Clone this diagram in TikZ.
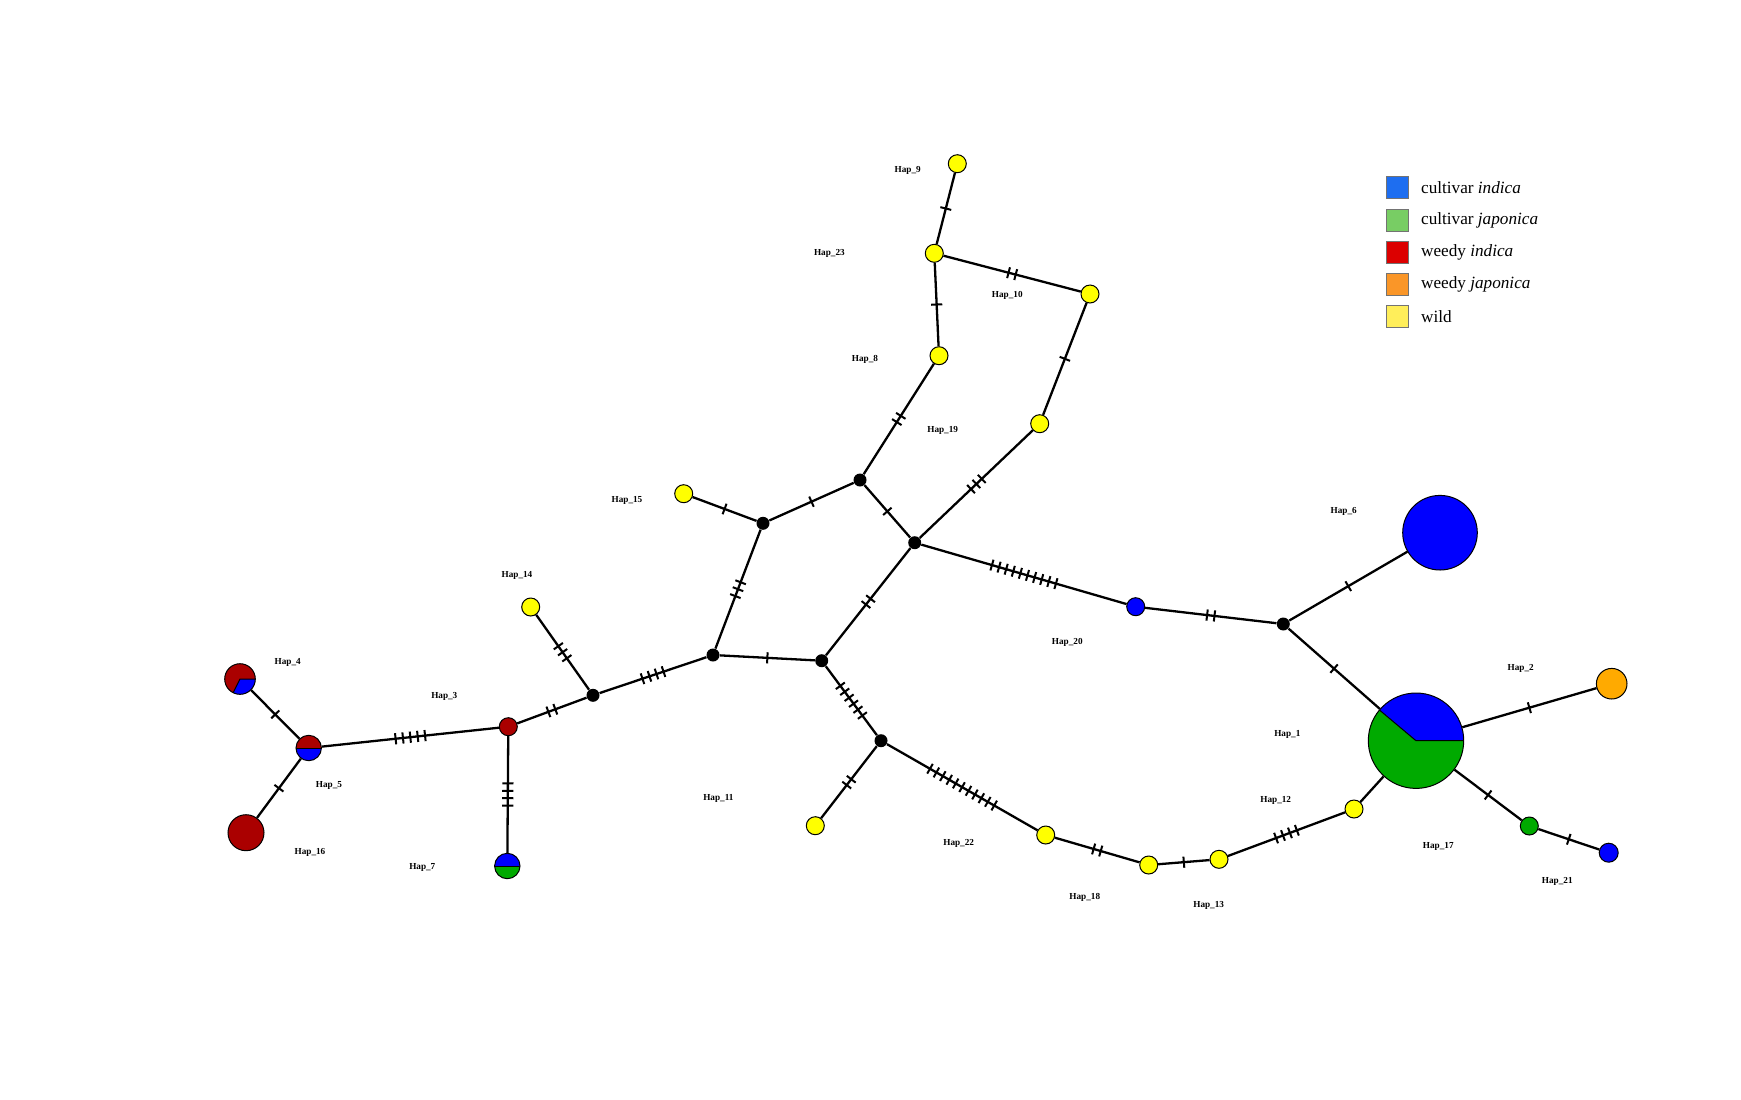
\documentclass[tikz,border=0pt]{standalone}
\usepackage{fontspec}
\setmainfont{Liberation Serif}
\usetikzlibrary{decorations.markings}
\definecolor{pred}{RGB}{170,0,0}
\definecolor{pblue}{RGB}{0,0,255}
\definecolor{pgreen}{RGB}{0,170,0}
\definecolor{pyellow}{RGB}{255,255,0}
\definecolor{porange}{RGB}{255,170,0}
\definecolor{lblue}{RGB}{30,110,240}
\definecolor{lgreen}{RGB}{120,205,100}
\definecolor{lred}{RGB}{220,0,0}
\definecolor{lorange}{RGB}{250,150,40}
\definecolor{lyellow}{RGB}{255,238,90}
\begin{document}
\begin{tikzpicture}[x=0.5pt,y=-0.5pt,
  hapc/.style={circle,draw=black,line width=0.5pt,inner sep=0pt},
  mvx/.style={circle,fill=black,inner sep=0pt,minimum size=6.5pt},
  edge/.style={line width=1.15pt,black},
  lab/.style={font=\fontsize{4.6}{5}\selectfont\bfseries,inner sep=0pt},
  legbox/.style={draw=black!55,line width=0.5pt,minimum size=11pt,inner sep=0pt},
  legtext/.style={font=\fontsize{8.6}{10}\selectfont,anchor=west,inner sep=0pt},
  mut/.style={postaction={decorate,decoration={markings,
    mark=at position 0.5 with {\foreach \k in {1,...,#1}{\draw[line width=1pt] ({(\k-(#1+1)/2)*3.7pt},-2.8pt) -- ({(\k-(#1+1)/2)*3.7pt},2.8pt);}}}}}
]
\useasboundingbox (0,0) rectangle (1741,1099);

% pies
\fill[pred] (240,679) circle[radius=7.65pt];
\fill[pblue] (240,679) -- +(-116.6:7.65pt) arc[start angle=-116.6,end angle=0,radius=7.65pt] -- cycle;
\draw[line width=0.5pt] (240,679) +(-116.6:7.65pt) -- (240,679) -- +(0:7.65pt);

\fill[pred] (308.7,748) -- +(0:6.35pt) arc[start angle=0,end angle=180,radius=6.35pt] -- cycle;
\fill[pblue] (308.7,748) -- +(180:6.35pt) arc[start angle=180,end angle=360,radius=6.35pt] -- cycle;
\draw[line width=0.5pt] (308.7,748) +(180:6.35pt) -- +(0:6.35pt);

\fill[pblue] (507.3,866) -- +(0:6.35pt) arc[start angle=0,end angle=180,radius=6.35pt] -- cycle;
\fill[pgreen] (507.3,866) -- +(180:6.35pt) arc[start angle=180,end angle=360,radius=6.35pt] -- cycle;
\draw[line width=0.5pt] (507.3,866) +(180:6.35pt) -- +(0:6.35pt);

\fill[pblue] (1416,740.7) -- +(0:23.85pt) arc[start angle=0,end angle=140,radius=23.85pt] -- cycle;
\fill[pgreen] (1416,740.7) -- +(140:23.85pt) arc[start angle=140,end angle=360,radius=23.85pt] -- cycle;
\draw[line width=0.5pt] (1416,740.7) +(140:23.85pt) -- (1416,740.7) -- +(0:23.85pt);

% haplotype nodes
\node[hapc,minimum size=47.7pt] (h1) at (1416,740.7) {};
\node[hapc,fill=porange,minimum size=15.3pt] (h2) at (1611.7,683.7) {};
\node[hapc,fill=pred,minimum size=9pt] (h3) at (508.3,726.7) {};
\node[hapc,minimum size=15.3pt] (h4) at (240,679) {};
\node[hapc,minimum size=12.7pt] (h5) at (308.7,748) {};
\node[hapc,fill=pblue,minimum size=37.3pt] (h6) at (1440,532.7) {};
\node[hapc,minimum size=12.7pt] (h7) at (507.3,866) {};
\node[hapc,fill=pyellow,minimum size=9pt] (h8) at (939,355.7) {};
\node[hapc,fill=pyellow,minimum size=9pt] (h9) at (957.3,163.7) {};
\node[hapc,fill=pyellow,minimum size=9pt] (h10) at (1090,294) {};
\node[hapc,fill=pyellow,minimum size=9pt] (h11) at (815.3,825.7) {};
\node[hapc,fill=pyellow,minimum size=9pt] (h12) at (1354,809) {};
\node[hapc,fill=pyellow,minimum size=9pt] (h13) at (1219,859.3) {};
\node[hapc,fill=pyellow,minimum size=9pt] (h14) at (530.7,607) {};
\node[hapc,fill=pyellow,minimum size=9pt] (h15) at (683.7,493.7) {};
\node[hapc,fill=pred,minimum size=18pt] (h16) at (246,832.7) {};
\node[hapc,fill=pgreen,minimum size=9pt] (h17) at (1529.3,826) {};
\node[hapc,fill=pyellow,minimum size=9pt] (h18) at (1148.7,865) {};
\node[hapc,fill=pyellow,minimum size=9pt] (h19) at (1039.7,423.7) {};
\node[hapc,fill=pblue,minimum size=9pt] (h20) at (1135.7,606.7) {};
\node[hapc,fill=pblue,minimum size=9.5pt] (h21) at (1608.7,852.7) {};
\node[hapc,fill=pyellow,minimum size=9pt] (h22) at (1045.7,835) {};
\node[hapc,fill=pyellow,minimum size=9pt] (h23) at (934.3,253.3) {};

% median vectors
\node[mvx] (mA) at (914.7,542.7) {};
\node[mvx] (mB) at (821.7,660.7) {};
\node[mvx] (mC) at (881,740.7) {};
\node[mvx] (mD) at (763,523.3) {};
\node[mvx] (mE) at (860,480) {};
\node[mvx] (mF) at (593,695.3) {};
\node[mvx] (mG) at (713,655) {};
\node[mvx] (mH) at (1283.3,624) {};

% edges
\draw[edge,mut=1] (h4) -- (h5);
\draw[edge,mut=1] (h5) -- (h16);
\draw[edge,mut=5] (h5) -- (h3);
\draw[edge,mut=4] (h3) -- (h7);
\draw[edge,mut=2] (h3) -- (mF);
\draw[edge,mut=3] (mF) -- (h14);
\draw[edge,mut=4] (mF) -- (mG);
\draw[edge,mut=3] (mG) -- (mD);
\draw[edge,mut=1] (mG) -- (mB);
\draw[edge,mut=1] (mD) -- (h15);
\draw[edge,mut=1] (mD) -- (mE);
\draw[edge,mut=2] (mE) -- (h8);
\draw[edge,mut=1] (mE) -- (mA);
\draw[edge,mut=1] (h8) -- (h23);
\draw[edge,mut=1] (h23) -- (h9);
\draw[edge,mut=2] (h23) -- (h10);
\draw[edge,mut=1] (h10) -- (h19);
\draw[edge,mut=3] (h19) -- (mA);
\draw[edge,mut=2] (mA) -- (mB);
\draw[edge,mut=10] (mA) -- (h20);
\draw[edge,mut=2] (h20) -- (mH);
\draw[edge,mut=1] (mH) -- (h6);
\draw[edge,mut=1] (mH) -- (h1);
\draw[edge,mut=6] (mB) -- (mC);
\draw[edge,mut=2] (mC) -- (h11);
\draw[edge,mut=11] (mC) -- (h22);
\draw[edge,mut=2] (h22) -- (h18);
\draw[edge,mut=1] (h18) -- (h13);
\draw[edge,mut=4] (h13) -- (h12);
\draw[edge] (h12) -- (h1);
\draw[edge,mut=1] (h1) -- (h2);
\draw[edge,mut=1] (h1) -- (h17);
\draw[edge,mut=1] (h17) -- (h21);

% labels
\node[lab] (t1) at (1287.3,734) {Hap\_1};
\node[lab] (t2) at (1520.7,668.7) {Hap\_2};
\node[lab] (t3) at (444.3,696.7) {Hap\_3};
\node[lab] (t4) at (287.7,662.7) {Hap\_4};
\node[lab] (t5) at (329,785.7) {Hap\_5};
\node[lab] (t6) at (1343.7,511.7) {Hap\_6};
\node[lab] (t7) at (422.3,867.7) {Hap\_7};
\node[lab] (t8) at (865,359.7) {Hap\_8};
\node[lab] (t9) at (907.7,170.7) {Hap\_9};
\node[lab] (t10) at (1007.3,295.7) {Hap\_10};
\node[lab] (t11) at (718.4,798.3) {Hap\_11};
\node[lab] (t12) at (1275.7,800.7) {Hap\_12};
\node[lab] (t13) at (1208.7,905.3) {Hap\_13};
\node[lab] (t14) at (517,575.7) {Hap\_14};
\node[lab] (t15) at (627,500.7) {Hap\_15};
\node[lab] (t16) at (310,852.7) {Hap\_16};
\node[lab] (t17) at (1438.3,846.7) {Hap\_17};
\node[lab] (t18) at (1084.8,897.1) {Hap\_18};
\node[lab] (t19) at (942.7,430.7) {Hap\_19};
\node[lab] (t20) at (1067.3,642.7) {Hap\_20};
\node[lab] (t21) at (1557.3,881.7) {Hap\_21};
\node[lab] (t22) at (958.7,843.3) {Hap\_22};
\node[lab] (t23) at (829.4,253.2) {Hap\_23};

% legend
\node[legbox,fill=lblue] (k1) at (1397.7,187.7) {};
\node[legbox,fill=lgreen] (k2) at (1397.7,220) {};
\node[legbox,fill=lred] (k3) at (1397.7,252) {};
\node[legbox,fill=lorange] (k4) at (1397.7,284.3) {};
\node[legbox,fill=lyellow] (k5) at (1397.7,316.7) {};
\node[legtext] (g1) at (1420.7,187.7) {cultivar \textit{indica}};
\node[legtext] (g2) at (1420.7,220) {cultivar \textit{japonica}};
\node[legtext] (g3) at (1420.7,252) {weedy \textit{indica}};
\node[legtext] (g4) at (1420.7,284.3) {weedy \textit{japonica}};
\node[legtext] (g5) at (1420.7,316.7) {wild};
\end{tikzpicture}
\end{document}
